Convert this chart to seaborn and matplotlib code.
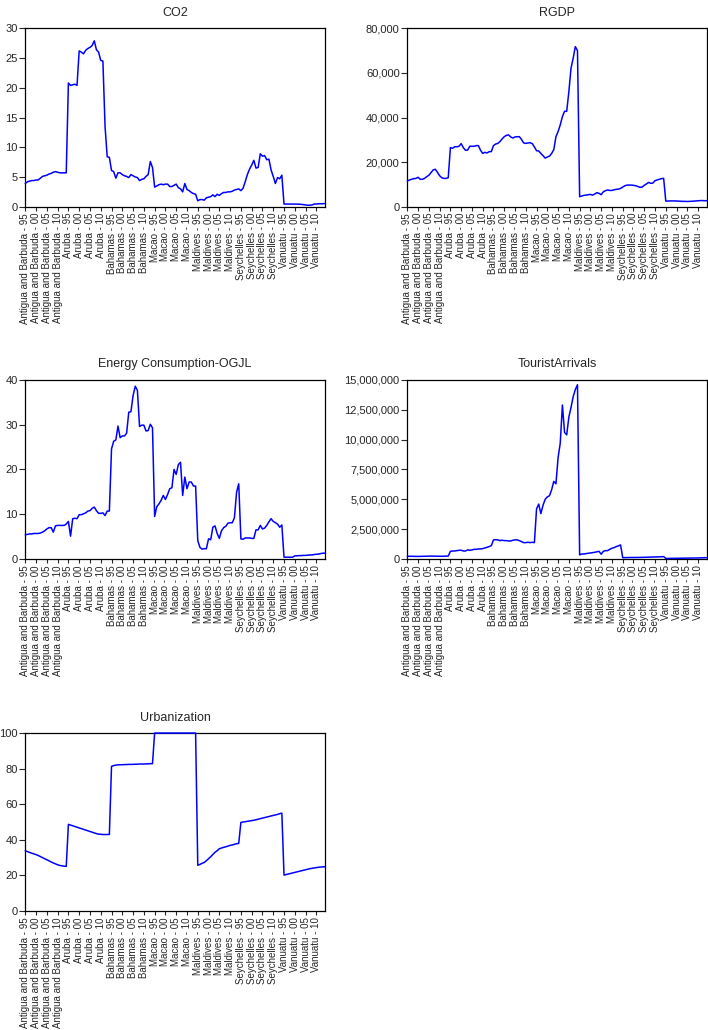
import numpy as np
import pandas as pd
import matplotlib
matplotlib.use("Agg")
import matplotlib.pyplot as plt
import seaborn as sns
from matplotlib.ticker import StrMethodFormatter

# --- panel structure: 7 countries x 1995-2014 ---
countries = ["Antigua and Barbuda", "Aruba", "Bahamas", "Macao",
             "Maldives", "Seychelles", "Vanuatu"]
years = ["95", "96", "97", "98", "99", "00", "01", "02", "03", "04",
         "05", "06", "07", "08", "09", "10", "11", "12", "13", "14"]

# --- series values (one row per country) ---
co2 = [
    3.9, 4.2, 4.3, 4.4, 4.4, 4.5, 4.5, 4.8, 5.1, 5.2, 5.3, 5.5, 5.6, 5.8, 5.9, 5.8, 5.7, 5.7, 5.7, 5.7,
    20.8, 20.4, 20.5, 20.6, 20.4, 26.2, 26.0, 25.7, 26.3, 26.6, 26.8, 27.1, 27.9, 26.4, 26.0, 24.6, 24.5, 13.5, 8.4, 8.3,
    6.1, 5.9, 4.8, 5.7, 5.7, 5.4, 5.2, 5.1, 4.9, 5.4, 5.2, 5.0, 4.9, 4.4, 4.6, 4.7, 5.1, 5.4, 7.6, 6.6,
    3.3, 3.5, 3.7, 3.8, 3.7, 3.8, 3.8, 3.4, 3.4, 3.6, 3.8, 3.2, 3.0, 2.5, 3.9, 2.9, 2.7, 2.4, 2.2, 2.1,
    1.0, 1.2, 1.2, 1.1, 1.5, 1.6, 1.7, 2.0, 1.7, 2.1, 1.9, 2.2, 2.4, 2.4, 2.5, 2.5, 2.6, 2.8, 2.9, 3.0,
    2.7, 3.1, 4.2, 5.4, 6.3, 7.0, 7.8, 6.5, 6.6, 8.9, 8.5, 8.6, 7.9, 8.0, 6.2, 5.1, 3.9, 4.9, 4.7, 5.3,
    0.45, 0.45, 0.45, 0.45, 0.45, 0.45, 0.44, 0.42, 0.40, 0.35, 0.30, 0.25, 0.25, 0.30, 0.45, 0.45, 0.50, 0.50, 0.50, 0.55,
]

rgdp = [
    11500, 12000, 12300, 12600, 12700, 13200, 12300, 12300, 12700, 13500, 14100, 15300, 16500, 16800, 15400, 13900, 13000, 12700, 12700, 13000,
    26500, 26200, 26900, 26900, 27100, 28300, 26500, 25300, 25400, 27100, 27100, 27100, 27400, 27400, 25300, 23900, 24400, 24100, 24700, 24700,
    27400, 28100, 28400, 29200, 30400, 31400, 32000, 32200, 31300, 30800, 31300, 31400, 31400, 30200, 28600, 28400, 28600, 28700, 28300, 26800,
    25100, 25000, 23900, 22900, 21800, 22300, 22700, 23900, 25600, 31400, 33700, 36700, 40400, 42800, 42800, 51600, 62100, 66600, 71800, 70000,
    4500, 4800, 5100, 5200, 5400, 5500, 5200, 5700, 6300, 6000, 5400, 6700, 7200, 7500, 7300, 7300, 7600, 7800, 7900, 8200,
    8800, 9400, 9700, 9700, 9700, 9600, 9400, 9100, 8700, 8800, 9600, 10200, 10900, 10500, 10600, 11700, 12000, 12300, 12600, 12700,
    2500, 2550, 2600, 2600, 2600, 2550, 2500, 2450, 2400, 2400, 2350, 2400, 2450, 2500, 2600, 2700, 2750, 2750, 2700, 2700,
]

energy = [
    5.4, 5.5, 5.6, 5.6, 5.7, 5.7, 5.7, 5.8, 6.0, 6.3, 6.7, 7.0, 7.0, 6.0, 7.4, 7.5, 7.5, 7.5, 7.5, 7.8,
    8.4, 5.1, 9.0, 9.1, 9.0, 9.9, 9.9, 10.1, 10.3, 10.7, 10.8, 11.3, 11.6, 10.8, 10.2, 10.2, 10.3, 9.7, 10.7, 10.7,
    24.6, 26.3, 26.6, 29.7, 27.1, 27.5, 27.5, 28.1, 32.8, 32.9, 36.5, 38.6, 37.7, 29.6, 29.9, 29.9, 28.6, 28.7, 30.1, 29.3,
    9.5, 11.7, 12.3, 13.1, 14.2, 13.3, 14.4, 15.7, 15.9, 20.0, 18.9, 21.1, 21.6, 14.2, 18.3, 15.7, 17.2, 17.2, 16.3, 16.3,
    4.1, 2.6, 2.2, 2.3, 2.3, 4.5, 4.3, 7.1, 7.4, 5.7, 4.6, 6.3, 7.0, 7.3, 8.0, 8.1, 8.1, 9.2, 14.9, 16.8,
    4.5, 4.4, 4.7, 4.7, 4.7, 4.6, 4.6, 6.5, 6.5, 7.5, 6.7, 6.9, 7.5, 8.3, 9.0, 8.4, 8.1, 7.8, 7.1, 7.6,
    0.4, 0.4, 0.4, 0.4, 0.4, 0.7, 0.7, 0.75, 0.75, 0.8, 0.8, 0.85, 0.9, 0.9, 1.0, 1.05, 1.1, 1.2, 1.3, 1.3,
]

tourists = [
    230000, 230000, 225000, 220000, 215000, 215000, 220000, 225000, 230000, 235000, 240000, 240000, 240000, 235000, 230000, 225000, 225000, 230000, 240000, 245000,
    640000, 670000, 670000, 700000, 730000, 730000, 670000, 670000, 760000, 730000, 760000, 810000, 810000, 840000, 840000, 870000, 920000, 980000, 1040000, 1120000,
    1600000, 1620000, 1600000, 1540000, 1570000, 1540000, 1540000, 1510000, 1510000, 1570000, 1600000, 1600000, 1540000, 1460000, 1370000, 1370000, 1400000, 1370000, 1400000, 1370000,
    4200000, 4600000, 3800000, 4500000, 5000000, 5200000, 5300000, 5800000, 6500000, 6300000, 8500000, 9700000, 12900000, 10600000, 10400000, 11900000, 12700000, 13600000, 14200000, 14600000,
    340000, 420000, 420000, 450000, 480000, 500000, 530000, 560000, 600000, 640000, 400000, 640000, 700000, 700000, 810000, 900000, 950000, 1040000, 1100000, 1180000,
    110000, 115000, 120000, 125000, 125000, 125000, 130000, 130000, 130000, 135000, 140000, 150000, 155000, 160000, 165000, 170000, 175000, 180000, 190000, 200000,
    45000, 50000, 52000, 53000, 55000, 55000, 57000, 58000, 60000, 62000, 65000, 68000, 72000, 78000, 82000, 88000, 94000, 98000, 105000, 110000,
]

urban = [
    33.9, 33.4, 32.9, 32.5, 32.1, 31.7, 31.2, 30.6, 30.0, 29.4, 28.8, 28.2, 27.6, 27.0, 26.5, 26.0, 25.6, 25.4, 25.2, 25.1,
    48.7, 48.3, 47.9, 47.5, 47.1, 46.7, 46.3, 45.9, 45.5, 45.1, 44.7, 44.3, 43.9, 43.5, 43.2, 43.1, 43.0, 43.0, 43.0, 43.0,
    81.3, 81.7, 82.0, 82.1, 82.2, 82.2, 82.3, 82.3, 82.4, 82.4, 82.4, 82.5, 82.5, 82.6, 82.6, 82.6, 82.7, 82.7, 82.8, 82.8,
    100, 100, 100, 100, 100, 100, 100, 100, 100, 100, 100, 100, 100, 100, 100, 100, 100, 100, 100, 100,
    25.7, 26.2, 26.8, 27.3, 28.3, 29.4, 30.5, 31.8, 33.0, 33.9, 35.0, 35.4, 35.8, 36.1, 36.5, 36.9, 37.1, 37.5, 37.8, 38.0,
    49.8, 50.0, 50.2, 50.4, 50.6, 50.8, 51.0, 51.3, 51.6, 51.9, 52.2, 52.5, 52.8, 53.1, 53.4, 53.7, 54.0, 54.3, 54.7, 55.0,
    20.2, 20.5, 20.8, 21.1, 21.4, 21.7, 22.0, 22.3, 22.6, 22.9, 23.2, 23.5, 23.8, 24.0, 24.2, 24.4, 24.6, 24.7, 24.8, 24.9,
]

# --- build panel table ---
df = pd.DataFrame({
    "country": np.repeat(countries, len(years)),
    "year": years * len(countries),
    "CO2": co2,
    "RGDP": rgdp,
    "Energy Consumption-OGJL": energy,
    "TouristArrivals": tourists,
    "Urbanization": urban,
})
df["obs"] = np.arange(len(df))
df["label"] = df["country"] + " - " + df["year"]

sns.set_style("ticks")
plt.rcParams["font.family"] = ["Liberation Sans", "DejaVu Sans"]
plt.rcParams["axes.linewidth"] = 0.9

fig = plt.figure(figsize=(7.08, 10.30), dpi=100)

# (column, left, bottom, width, height, ymax, ystep, comma format)
panels = [
    ("CO2", 0.0357, 0.7993, 0.4233, 0.1732, 30, 5, False),
    ("RGDP", 0.5753, 0.7993, 0.4229, 0.1732, 80000, 20000, True),
    ("Energy Consumption-OGJL", 0.0357, 0.4573, 0.4233, 0.1738, 40, 10, False),
    ("TouristArrivals", 0.5753, 0.4573, 0.4229, 0.1738, 15000000, 2500000, True),
    ("Urbanization", 0.0357, 0.1155, 0.4233, 0.1728, 100, 20, False),
]

tick_pos = df["obs"].values[::5]
tick_lab = df["label"].values[::5]

for col, l, b, w, h, ymax, ystep, comma in panels:
    ax = fig.add_axes([l, b, w, h])
    sns.lineplot(data=df, x="obs", y=col, ax=ax, color="#0000FF",
                 linewidth=1.1, zorder=3, clip_on=False)
    ax.set_xlim(0, len(df) - 1)
    ax.set_ylim(0, ymax)
    ax.set_yticks(np.arange(0, ymax + ystep / 2, ystep))
    if comma:
        ax.yaxis.set_major_formatter(StrMethodFormatter("{x:,.0f}"))
    ax.set_xticks(tick_pos)
    ax.set_xticklabels(tick_lab, rotation=90, fontsize=7)
    ax.tick_params(axis="y", labelsize=8, length=4, width=0.8, pad=1.5)
    ax.tick_params(axis="x", length=3, width=0.8, pad=1.5)
    ax.set_xlabel("")
    ax.set_ylabel("")
    ax.set_title(col, fontsize=9, pad=9)
    for s in ax.spines.values():
        s.set_visible(True)
        s.set_color("black")

fig.savefig("out.png", dpi=100)
